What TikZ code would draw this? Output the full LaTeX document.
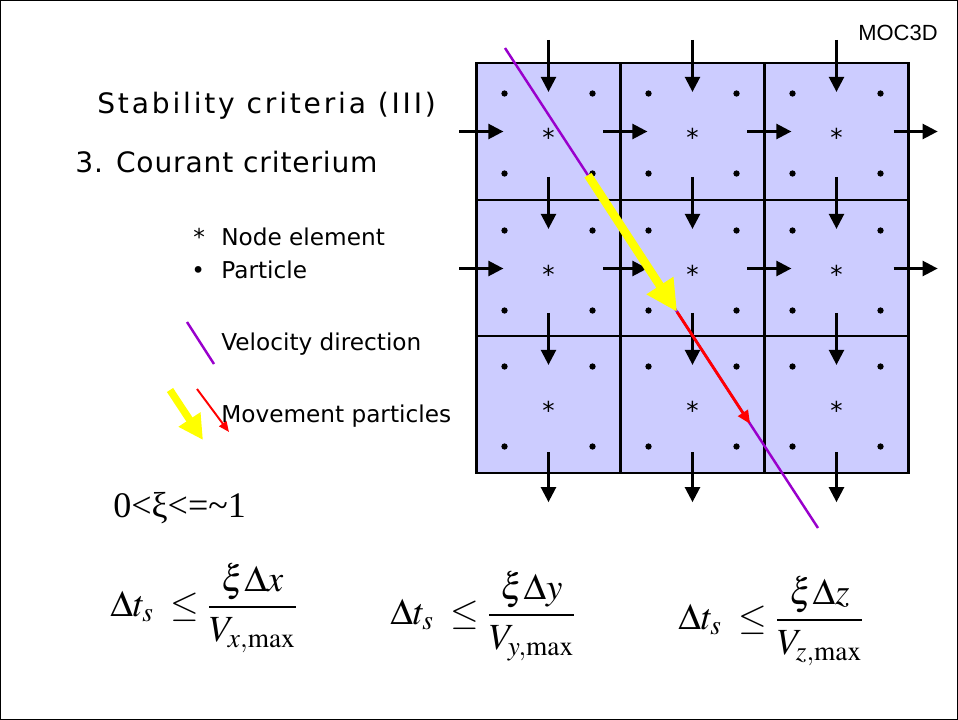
\documentclass[tikz,border=0pt]{standalone}
\usepackage{mathptmx}
\usepackage[no-math]{fontspec}
\setmainfont{DejaVu Sans}
\newfontfamily\arialfont{Liberation Sans}
\newfontfamily\timesfont{Liberation Serif}
\usepackage{xcolor}
\usetikzlibrary{arrows.meta, positioning, calc}
\definecolor{cellfill}{HTML}{CCCCFF}
\definecolor{velocity}{HTML}{9900CC}
\definecolor{moveyellow}{HTML}{FFFF00}
\definecolor{movered}{HTML}{FF0000}

\begin{document}
\begin{tikzpicture}[x=0.02cm, y=-0.02cm, >={Triangle[length=8.5pt, width=8.5pt]}, every node/.style={inner sep=0pt}]
    \tikzstyle{cell} = [rectangle, draw=black, fill=cellfill, line width=1.3pt, minimum width=2.88cm, minimum height=2.74cm]
    \tikzstyle{flow} = [draw, ->, line width=1.4pt]
    \tikzstyle{particle} = [circle, fill=black, minimum size=3.6pt]
    \tikzstyle{nodemark} = [anchor=base, font=\fontsize{14}{16}\selectfont]
    \tikzstyle{heading} = [anchor=base west, font=\fontsize{16}{19}\selectfont]
    \tikzstyle{legendtext} = [anchor=base west, font=\fontsize{13.2}{15}\selectfont]
    \tikzstyle{formula} = [anchor=west, font=\fontsize{21}{25}\selectfont]

    \useasboundingbox (0,0) rectangle (958,720);
    \draw[line width=0.6pt] (0.5,0.5) rectangle (957.5,719.5);

    % grid of cells
    \foreach \r/\cy in {1/131.5, 2/268.5, 3/404.5}
        \foreach \c/\cx in {1/548.5, 2/692.5, 3/836.5}
            \node [cell] (c\r\c) at (\cx,\cy) {};

    \foreach \r in {1,2,3}
        \foreach \c in {1,2,3} {
            \node [nodemark] at ($(c\r\c)+(0,15)$) {*};
            \foreach \dx/\dy in {-44/-38, 44/-38, -44/42, 44/42}
                \node [particle] at ($(c\r\c)+(\dx,\dy)$) {};
        }

    % flow through the cell faces
    \foreach \r in {1,2,3}
        \foreach \c in {1,2,3}
            \path [flow] ($(c\r\c.north)+(0,-22)$) -- ($(c\r\c.north)+(0,30)$);
    \foreach \c in {1,2,3}
        \path [flow] ($(c3\c.south)+(0,-22)$) -- ($(c3\c.south)+(0,28)$);
    \foreach \r in {1,2} {
        \foreach \c in {1,2,3}
            \path [flow] ($(c\r\c.west)+(-16,0)$) -- ($(c\r\c.west)+(28,0)$);
        \path [flow] ($(c\r3.east)+(-16,0)$) -- ($(c\r3.east)+(28,0)$);
    }

    % velocity and particle movement
    \coordinate (vtop) at (505,48);
    \coordinate (vbot) at (818,528);
    \coordinate (mstart) at ($(vtop)!0.265!(vbot)$);
    \coordinate (mmid) at ($(vtop)!0.55!(vbot)$);
    \coordinate (mend) at ($(vtop)!0.783!(vbot)$);
    \draw [velocity, line width=1.4pt] (vtop) -- (vbot);
    \draw [moveyellow, line width=4.8pt, -{Triangle[length=18pt, width=17pt]}] (mstart) -- (mmid);
    \draw [movered, line width=1.6pt, -{Triangle[length=7.5pt, width=6.5pt]}] (mmid) -- (mend);

    % titles
    \node [heading, font=\fontsize{16}{19}\selectfont\addfontfeature{LetterSpace=10}] (title) at (97,113) {Stability criteria (III)};
    \node [heading, font=\fontsize{16}{19}\selectfont\addfontfeature{LetterSpace=3}] (subtitle) at (75,172) {3. Courant criterium};
    \node [anchor=base west, font=\arialfont\fontsize{12.5}{15}\selectfont] (moc) at (858,40) {MOC3D};

    % legend
    \node [legendtext] (lstar) at (193,245) {*};
    \node [legendtext] (ldot) at (191,278) {•};
    \node [legendtext] (lnode) at (221,245) {Node element};
    \node [legendtext] (lpart) at (221,278) {Particle};
    \draw [velocity, line width=1.4pt] (187,322) -- (214,364);
    \node [legendtext] (lvel) at (221,350) {Velocity direction};
    \draw [moveyellow, line width=4.2pt, -{Triangle[length=14pt, width=14pt]}] (170,390) -- (203,440);
    \draw [movered, line width=1.1pt, -{Triangle[length=6pt, width=5pt]}] (197,389) -- (229,432);
    \node [legendtext] (lmove) at (221,422) {Movement particles};

    % criteria
    \node [anchor=base west, font=\timesfont\fontsize{20.5}{24}\selectfont] (range) at (113,517) {0<ξ<=\textasciitilde1};
    \node [formula] (fx) at (110,608) {$\displaystyle\Delta t_s\;\le\frac{\xi\Delta x}{V_{x,\max}}$};
    \node [formula] (fy) at (390,616) {$\displaystyle\Delta t_s\;\le\frac{\xi\Delta y}{V_{y,\max}}$};
    \node [formula] (fz) at (678,621) {$\displaystyle\Delta t_s\;\le\frac{\xi\Delta z}{V_{z,\max}}$};
\end{tikzpicture}
\end{document}
